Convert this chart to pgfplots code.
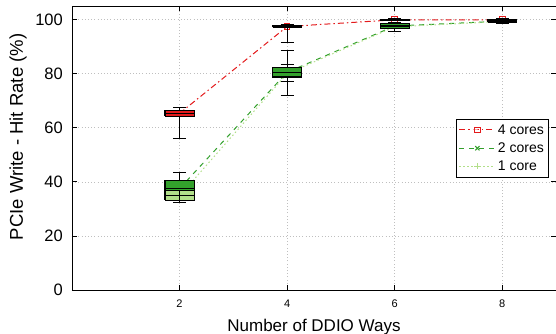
\documentclass[border=0pt]{standalone}
\usepackage{fontspec}
\setmainfont{Liberation Sans}
\usepackage{pgfplots}
\pgfplotsset{compat=1.18}
\definecolor{cred}{HTML}{E31A1C}
\definecolor{cgreen}{HTML}{33A02C}
\definecolor{clight}{HTML}{B2DF8A}
% box: #1 x, #2 lower whisker, #3 lower quartile, #4 median, #5 upper quartile, #6 upper whisker, #7 fill
\newcommand\bxp[7]{%
  \pgfmathsetmacro\xl{#1-0.27}\pgfmathsetmacro\xr{#1+0.27}%
  \pgfmathsetmacro\cl{#1-0.12}\pgfmathsetmacro\cxr{#1+0.12}%
  \addplot[forget plot, black, line width=1.1pt, solid, mark=none] coordinates {(#1,#2)(#1,#3)};
  \addplot[forget plot, black, line width=1.1pt, solid, mark=none] coordinates {(#1,#5)(#1,#6)};
  \addplot[forget plot, black, line width=1.1pt, solid, mark=none] coordinates {(\cl,#2)(\cxr,#2)};
  \addplot[forget plot, black, line width=1.1pt, solid, mark=none] coordinates {(\cl,#6)(\cxr,#6)};
  \addplot[forget plot, fill=#7, draw=black, line width=1.1pt, solid, mark=none, line join=miter]
    coordinates {(\xl,#3)(\xr,#3)(\xr,#5)(\xl,#5)(\xl,#3)};
  \addplot[forget plot, black, line width=1.1pt, solid, mark=none] coordinates {(\xl,#4)(\xr,#4)};
}
\begin{document}
\begin{tikzpicture}
\begin{axis}[
  at={(0pt,0pt)}, anchor=south west,
  scale only axis, width=484pt, height=284pt,
  xmin=0, xmax=9, ymin=0, ymax=105,
  xtick={2,4,6,8}, ytick={0,20,40,60,80,100},
  tick align=inside, major tick length=5pt,
  tick style={black, line width=0.7pt},
  grid=major, grid style={dash pattern=on 0.8pt off 2.4pt, gray!50, line width=0.6pt},
  axis line style={line width=0.8pt},
  clip marker paths=true,
  /pgf/number format/assume math mode=true,
  xticklabel style={font=\fontsize{11}{11}\selectfont, inner sep=0pt, yshift=-10pt},
  yticklabel style={font=\fontsize{16.5}{16.5}\selectfont, inner sep=0pt, xshift=-9pt},
  xlabel={Number of DDIO Ways},
  ylabel={PCIe Write - Hit Rate (\%)},
  every axis x label/.style={at={(axis description cs:0.5,-0.130)}, anchor=center, font=\fontsize{17}{17}\selectfont},
  every axis y label/.style={at={(axis description cs:-0.1116,0.539)}, anchor=center, rotate=90, font=\fontsize{18.5}{18.5}\selectfont},
  legend style={at={(rel axis cs:0.986,0.602)}, anchor=north east, draw=black, line width=0.8pt,
    font=\fontsize{14}{16}\selectfont, inner xsep=3pt, inner ysep=3pt, row sep=3pt},
  legend cell align=left,
  legend image code/.code={\draw[mark repeat=2,mark phase=2] plot coordinates {(0pt,0pt)(18pt,0pt)(36pt,0pt)};},
]
% lines (drawn under the boxes)
\addplot[cred, line width=1pt, dash pattern=on 6pt off 3pt on 1.5pt off 3pt, mark=square, mark size=2.8pt, mark options={solid}]
  coordinates {(2,65.3)(4,97.4)(6,99.9)(8,99.9)};
\addlegendentry{4 cores}
\addplot[cgreen, line width=1pt, dash pattern=on 5pt off 5pt, mark=x, mark size=3pt, mark options={solid}]
  coordinates {(2,37.5)(4,80.5)(6,97.6)(8,99.4)};
\addlegendentry{2 cores}
\addplot[clight, line width=1pt, dash pattern=on 1.5pt off 2.5pt, mark=+, mark size=3pt, mark options={solid}]
  coordinates {(2,34.8)(4,80.0)(6,97.3)(8,99.3)};
\addlegendentry{1 core}

% 1 core boxes
\bxp{2}{32.5}{33.2}{34.8}{36.9}{37.5}{clight}
\bxp{4}{72.0}{78.5}{80.0}{81.5}{88.5}{clight}
\bxp{6}{95.7}{96.7}{97.3}{98.0}{98.5}{clight}
\bxp{8}{98.7}{99.0}{99.3}{99.5}{99.8}{clight}
% 2 cores boxes
\bxp{2}{33.0}{36.8}{37.5}{40.6}{43.6}{cgreen}
\bxp{4}{77.1}{79.1}{80.5}{82.1}{83.4}{cgreen}
\bxp{6}{95.7}{96.6}{97.6}{98.4}{98.8}{cgreen}
\bxp{8}{98.7}{99.1}{99.4}{99.6}{99.9}{cgreen}
% 4 cores boxes
\bxp{2}{56.0}{64.2}{65.3}{66.4}{67.6}{cred}
\bxp{4}{91.4}{97.2}{97.4}{97.6}{98.0}{cred}
\bxp{6}{99.6}{99.8}{99.9}{100.0}{100.2}{cred}
\bxp{8}{99.6}{99.8}{99.9}{100.0}{100.2}{cred}
\end{axis}
\pgfresetboundingbox
\path (-72pt,-44pt) rectangle (484pt,290pt);
\end{tikzpicture}
\end{document}
